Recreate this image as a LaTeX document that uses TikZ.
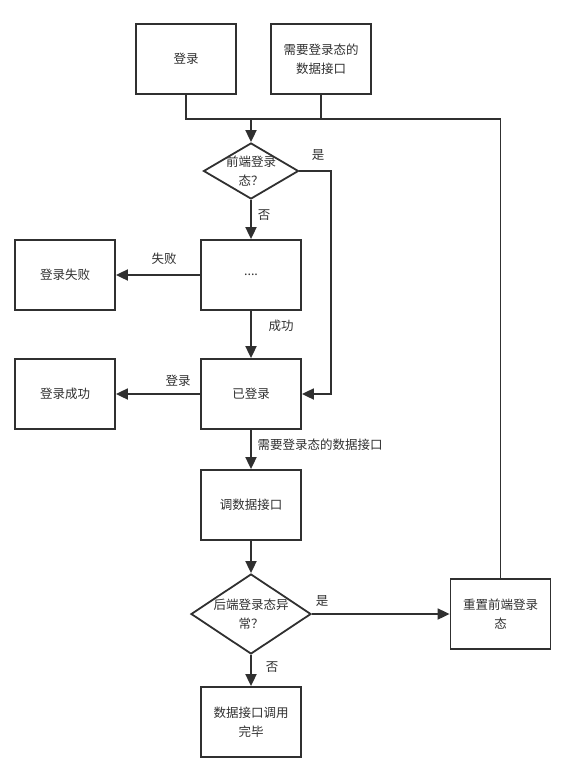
\documentclass[tikz,border=0pt]{standalone}
\usepackage{fontspec}
\setmainfont{Noto Sans CJK SC}
\usetikzlibrary{arrows.meta,shapes.geometric}
\definecolor{ink}{HTML}{303030}
\begin{document}
\begin{tikzpicture}[x=1pt,y=-1pt,
  every node/.style={font=\fontsize{12.5pt}{19pt}\selectfont, text=ink},
  box/.style={draw=ink, line width=1.8pt, minimum width=100pt, minimum height=70pt, inner sep=0pt, align=center},
  dia/.style={draw=ink, line width=1.8pt, diamond, inner sep=0pt},
  txt/.style={align=center, inner sep=0pt},
  lab/.style={inner sep=0pt},
  line/.style={draw=ink, line width=1.8pt},
  arr/.style={line, -{Triangle[length=12pt,width=11pt]}}]
\useasboundingbox (0,0) rectangle (567,765);
\node[box] (login) at (186,59) {登录};
\node[box] (api) at (321,59) {需要登录态的\\数据接口};
\node[dia, minimum width=95pt, minimum height=56pt] (d1) at (251,171) {};
\node[txt] (d1t) at (d1) {前端登录\\态？};
\node[box] (dots) at (251,275) {....};
\node[box] (fail) at (65,275) {登录失败};
\node[box] (logged) at (251,394) {已登录};
\node[box] (ok) at (65,394) {登录成功};
\node[box] (call) at (251,505) {调数据接口};
\node[dia, minimum width=120pt, minimum height=80pt] (d2) at (251,614) {};
\node[txt] (d2t) at (d2) {后端登录态异\\常？};
\node[box] (reset) at (500.5,614) {重置前端登录\\态};
\node[box] (done) at (251,722) {数据接口调用\\完毕};

\coordinate (top) at (500.5,119);
\coordinate (jm) at (251,119);
\coordinate (yesr) at (331,171);

\draw[line] (login.south) |- (top) -- (reset.north);
\draw[line] (api.south) -- (api.south |- top);
\draw[arr] (jm) -- (d1.north);
\draw[arr] (d1.east) -- (yesr) |- (logged.east);
\draw[arr] (d1.south) -- (dots.north);
\draw[arr] (dots.west) -- (fail.east);
\draw[arr] (dots.south) -- (logged.north);
\draw[arr] (logged.west) -- (ok.east);
\draw[arr] (logged.south) -- (call.north);
\draw[arr] (call.south) -- (d2.north);
\draw[arr] (d2.east) -- (reset.west);
\draw[arr] (d2.south) -- (done.north);

\node[lab] (l1) at (318,155) {是};
\node[lab] (l2) at (264,215) {否};
\node[lab] (l3) at (164,259) {失败};
\node[lab] (l4) at (281,326) {成功};
\node[lab] (l5) at (178,381) {登录};
\node[lab] (l6) at (320,445) {需要登录态的数据接口};
\node[lab] (l7) at (322,601) {是};
\node[lab] (l8) at (272,667) {否};
\end{tikzpicture}
\end{document}
